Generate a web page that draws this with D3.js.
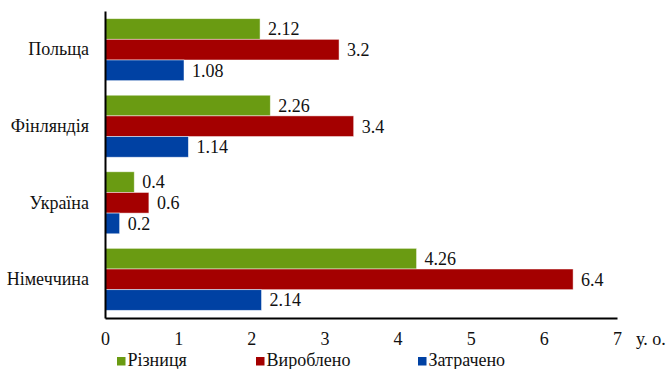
<!DOCTYPE html>
<html><head><meta charset="utf-8">
<script src="https://cdn.jsdelivr.net/npm/d3@7"></script>
</head><body style="margin:0;background:#fff">
<svg id="chart" width="672" height="369" style="font-family:'Liberation Serif'"></svg>
<script>
const countries = ["Польща", "Фінляндія", "Україна", "Німеччина"];
const seriesNames = ["Різниця", "Вироблено", "Затрачено"];
const difference = [2.12, 2.26, 0.4, 4.26];
const produced = [3.2, 3.4, 0.6, 6.4];
const spent = [1.08, 1.14, 0.2, 2.14];
const xTicks = [0, 1, 2, 3, 4, 5, 6, 7];
const colors = ["#6a9b12", "#a40000", "#0041a3"];

const seriesValues = [difference, produced, spent];
const svg = d3.select("#chart");
const plotLeft = 105, plotRight = 617, plotTop = 11, plotBottom = 318;
const styleText = sel => sel
  .attr("font-family", "Liberation Serif")
  .style("font-family", "'Liberation Serif'")
  .style("font-size", "18px")
  .style("fill", "#111");

const x = d3.scaleLinear().domain([0, 7]).range([plotLeft, plotRight]);
const y = d3.scaleBand().domain(countries).range([plotTop, plotBottom]).paddingInner(0.19).paddingOuter(0.1);
const ySub = d3.scaleBand().domain(seriesNames).range([0, y.bandwidth()]);

const groups = svg.append("g").selectAll("g").data(countries).join("g")
  .attr("transform", d => `translate(0,${y(d)})`);

seriesNames.forEach((s, si) => {
  groups.append("rect")
    .attr("x", x(0))
    .attr("y", ySub(s))
    .attr("width", (d, i) => x(seriesValues[si][i]) - x(0))
    .attr("height", ySub.bandwidth())
    .attr("fill", colors[si])
    .attr("stroke", "#fff").attr("stroke-opacity", 0.6).attr("stroke-width", 0.8);
  groups.append("text")
    .attr("x", (d, i) => x(seriesValues[si][i]) + 8)
    .attr("y", ySub(s) + ySub.bandwidth() / 2)
    .attr("dy", "0.35em")
    .call(styleText)
    .text((d, i) => seriesValues[si][i]);
});

// axes
const xAxis = svg.append("g").attr("transform", `translate(0,${plotBottom})`)
  .call(d3.axisBottom(x).tickValues(xTicks).tickSize(0).tickPadding(14).tickFormat(d3.format("d")));
xAxis.attr("font-family", null);
xAxis.select(".domain").attr("stroke", "#000").attr("stroke-width", 2);
xAxis.selectAll("text").call(styleText);

const yAxis = svg.append("g").attr("transform", `translate(${plotLeft},0)`)
  .call(d3.axisLeft(y).tickSize(0).tickPadding(16));
yAxis.attr("font-family", null);
yAxis.select(".domain").attr("stroke", "#000").attr("stroke-width", 2);
yAxis.selectAll("text").call(styleText);

svg.append("text").attr("x", 636).attr("y", 345).call(styleText).text("у. о.");

// legend
const legendX = [117, 256, 418];
const legend = svg.append("g").selectAll("g").data(seriesNames).join("g")
  .attr("transform", (d, i) => `translate(${legendX[i]},357)`);
legend.append("rect").attr("width", 8.5).attr("height", 8.5).attr("fill", (d, i) => colors[i]);
legend.append("text").attr("x", 10.5).attr("y", 9).call(styleText).text(d => d);
</script>
</body></html>
